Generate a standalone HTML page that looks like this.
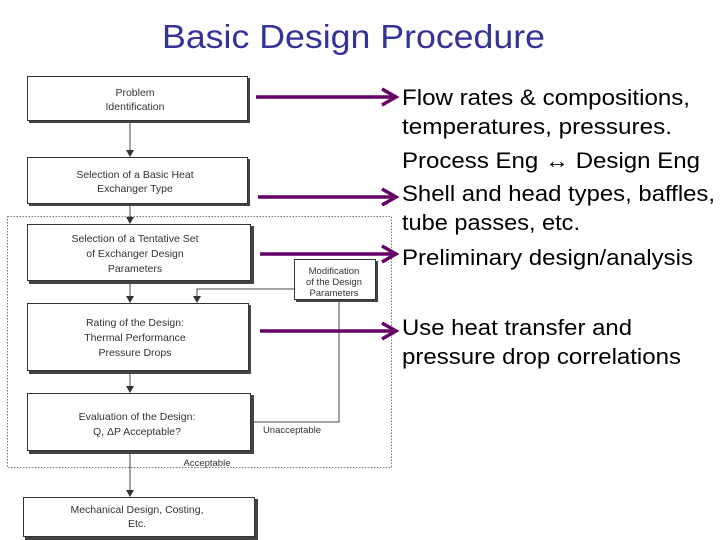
<!DOCTYPE html>
<html><head><meta charset="utf-8"><style>
html,body{margin:0;padding:0;background:#fff;}
svg{display:block;}
</style></head><body>
<svg width="720" height="540" xmlns="http://www.w3.org/2000/svg" font-family="Liberation Sans, sans-serif">
<text x="162" y="48" font-size="33" fill="#333399" textLength="383" lengthAdjust="spacingAndGlyphs">Basic Design Procedure</text>
<defs>
<marker id="a" markerWidth="8" markerHeight="8" refX="6" refY="4" orient="auto" markerUnits="userSpaceOnUse"><path d="M0,0 L7,4 L0,8 Z" fill="#333"/></marker>
</defs>
<rect x="7.5" y="216.5" width="384" height="251" fill="none" stroke="#777" stroke-dasharray="1.5,1.5"/>
<g stroke="#333" stroke-width="1" fill="#fff">
<rect x="29" y="78" width="221" height="45" fill="#444" stroke="none"/>
<rect x="27.5" y="76.5" width="220" height="44"/>
<rect x="29" y="159" width="221" height="47" fill="#444" stroke="none"/>
<rect x="27.5" y="157.5" width="220" height="46"/>
<rect x="29" y="226" width="225" height="58" fill="#444" stroke="none"/>
<rect x="27.5" y="224.5" width="223" height="56"/>
<rect x="296" y="261" width="82" height="41" fill="#444" stroke="none"/>
<rect x="294.5" y="259.5" width="81" height="40"/>
<rect x="29" y="305" width="222" height="69" fill="#444" stroke="none"/>
<rect x="27.5" y="303.5" width="221" height="67"/>
<rect x="29" y="395" width="225" height="59" fill="#444" stroke="none"/>
<rect x="27.5" y="393.5" width="223" height="57"/>
<rect x="25" y="499" width="233" height="41" fill="#444" stroke="none"/>
<rect x="23.5" y="497.5" width="231" height="39"/>
</g>
<g stroke="#444" stroke-width="1" fill="none">
<line x1="130" y1="121" x2="130" y2="156" marker-end="url(#a)"/>
<line x1="130" y1="204" x2="130" y2="223" marker-end="url(#a)"/>
<line x1="130" y1="282" x2="130" y2="302" marker-end="url(#a)"/>
<line x1="130" y1="372" x2="130" y2="392" marker-end="url(#a)"/>
<line x1="130" y1="452" x2="130" y2="496" marker-end="url(#a)"/>
<polyline points="294,289 197,289 197,302" marker-end="url(#a)"/>
<polyline points="339,300 339,422 252,422"/>
</g>
<g font-size="10.5" fill="#333" text-anchor="middle">
<text x="135" y="96">Problem</text><text x="135" y="110">Identification</text>
<text x="135" y="178">Selection of a Basic Heat</text><text x="135" y="192">Exchanger Type</text>
<text x="135" y="242">Selection of a Tentative Set</text><text x="135" y="257">of Exchanger Design</text><text x="135" y="272">Parameters</text>
<text x="135" y="326">Rating of the Design:</text><text x="135" y="341">Thermal Performance</text><text x="135" y="356">Pressure Drops</text>
<text x="137" y="420">Evaluation of the Design:</text><text x="137" y="435">Q, ΔP Acceptable?</text>
<text x="137" y="513">Mechanical Design, Costing,</text><text x="137" y="527">Etc.</text>
<text font-size="9.5" x="334" y="274">Modification</text><text font-size="9.5" x="334" y="285">of the Design</text><text font-size="9.5" x="334" y="296">Parameters</text>
<text font-size="9.5" x="292" y="433">Unacceptable</text>
<text font-size="9.5" x="207" y="466">Acceptable</text>
</g>
<g stroke="#660066" stroke-width="3.5" fill="none">
<line x1="256" y1="97" x2="395" y2="97"/><polyline points="382,89 396,97 382,105"/>
<line x1="258" y1="197" x2="395" y2="197"/><polyline points="382,189 396,197 382,205"/>
<line x1="260" y1="254" x2="395" y2="254"/><polyline points="382,246 396,254 382,262"/>
<line x1="260" y1="331" x2="395" y2="331"/><polyline points="382,323 396,331 382,339"/>
</g>
<g font-size="22" fill="#000" lengthAdjust="spacingAndGlyphs">
<text x="402" y="105" textLength="288" lengthAdjust="spacingAndGlyphs">Flow rates &amp; compositions,</text>
<text x="402" y="134" textLength="270" lengthAdjust="spacingAndGlyphs">temperatures, pressures.</text>
<text x="402" y="168" textLength="298" lengthAdjust="spacingAndGlyphs">Process Eng ↔ Design Eng</text>
<text x="402" y="201" textLength="313" lengthAdjust="spacingAndGlyphs">Shell and head types, baffles,</text>
<text x="402" y="230" textLength="178" lengthAdjust="spacingAndGlyphs">tube passes, etc.</text>
<text x="402" y="265" textLength="291" lengthAdjust="spacingAndGlyphs">Preliminary design/analysis</text>
<text x="402" y="335" textLength="230" lengthAdjust="spacingAndGlyphs">Use heat transfer and</text>
<text x="402" y="364" textLength="279" lengthAdjust="spacingAndGlyphs">pressure drop correlations</text>
</g>
</svg>
</body></html>
